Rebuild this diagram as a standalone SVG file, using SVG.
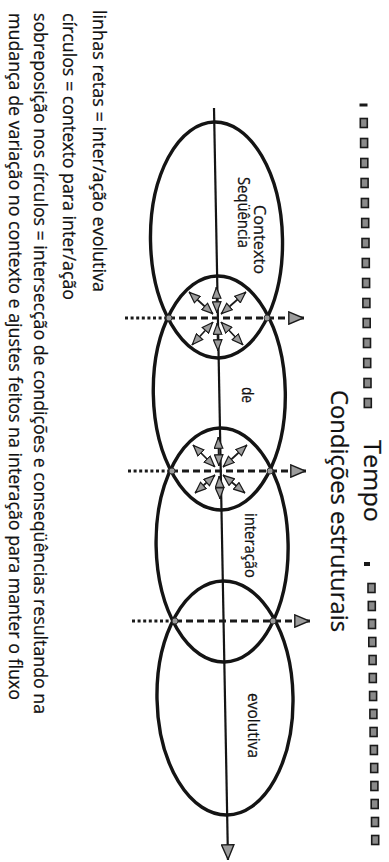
<svg xmlns="http://www.w3.org/2000/svg" width="389" height="862" viewBox="0 0 389 862">
  <style>
    .txt { font-family: "Open Sans", "Liberation Sans", sans-serif; fill: #111; stroke: #111; stroke-width: 0.25; }
    .legend { font-size: 19px; }
    .label { font-size: 16px; }
    .ctx { fill: none; stroke: #141414; stroke-width: 3.4; }
    .axis { fill: none; stroke: #141414; stroke-width: 2.2; }
    .dots { fill: none; stroke: #1a1a1a; stroke-width: 3.2; stroke-dasharray: 3 2.6; }
    .dash { fill: none; stroke: #1a1a1a; stroke-width: 3.2; stroke-dasharray: 7 4; }
    .burst { fill: none; stroke: #1a1a1a; stroke-width: 1.7; }
    .node-dot { fill: #9a9a9a; stroke: #333; stroke-width: 1; }
    .tick { fill: #8a8a8a; stroke: #1a1a1a; stroke-width: 1.6; }
  </style>
  <defs>
    <marker id="headBig" viewBox="0 0 16 14" refX="16" refY="7" markerWidth="16" markerHeight="14" markerUnits="userSpaceOnUse" orient="auto">
      <path d="M0.8,0.8 L15.4,7 L0.8,13.2 z" fill="#9c9c9c" stroke="#1a1a1a" stroke-width="1.4"/>
    </marker>
    <marker id="headSmall" viewBox="0 0 12 10" refX="12" refY="5" markerWidth="12" markerHeight="10" markerUnits="userSpaceOnUse" orient="auto-start-reverse">
      <path d="M0.7,0.7 L11.5,5 L0.7,9.3 z" fill="#9c9c9c" stroke="#1a1a1a" stroke-width="1.2"/>
    </marker>
  </defs>

  <!-- Legend -->
  <g id="legend" class="txt legend">
    <text transform="translate(93,10) rotate(90)" textLength="282" lengthAdjust="spacingAndGlyphs">linhas retas = inter/ação evolutiva</text>
    <text transform="translate(63,13) rotate(90)" textLength="287" lengthAdjust="spacingAndGlyphs">círculos = contexto para inter/ação</text>
    <text transform="translate(34,13) rotate(90)" textLength="701" lengthAdjust="spacingAndGlyphs">sobreposição nos círculos = intersecção de condições e conseqüências resultando na</text>
    <text transform="translate(9,13) rotate(90)" textLength="687" lengthAdjust="spacingAndGlyphs">mudança de variação no contexto e ajustes feitos na interação para manter o fluxo</text>
  </g>

  <!-- Time scale header -->
  <g id="time-scale">
    <rect x="359.5" y="103.5" width="8" height="3" fill="#1a1a1a"/>
    <rect class="tick" x="360.3" y="118.5" width="7" height="9"/>
    <rect class="tick" x="360.6" y="138.5" width="7" height="9"/>
    <rect class="tick" x="360.8" y="158.5" width="7" height="9"/>
    <rect class="tick" x="361.1" y="178.5" width="7" height="9"/>
    <rect class="tick" x="361.4" y="198.5" width="7" height="9"/>
    <rect class="tick" x="361.7" y="218.5" width="7" height="9"/>
    <rect class="tick" x="362.0" y="238.5" width="7" height="9"/>
    <rect class="tick" x="362.3" y="258.5" width="7" height="9"/>
    <rect class="tick" x="362.6" y="278.5" width="7" height="9"/>
    <rect class="tick" x="362.9" y="298.5" width="7" height="9"/>
    <rect class="tick" x="363.2" y="318.5" width="7" height="9"/>
    <rect class="tick" x="363.5" y="338.5" width="7" height="9"/>
    <rect class="tick" x="363.7" y="358.5" width="7" height="9"/>
    <rect class="tick" x="364.0" y="378.5" width="7" height="9"/>
    <rect class="tick" x="364.3" y="398.5" width="7" height="9"/>
    <text class="txt" font-size="23" transform="translate(364,440) rotate(90)" textLength="82" lengthAdjust="spacingAndGlyphs">Tempo</text>
    <rect x="364" y="562" width="6" height="4" fill="#1a1a1a"/>
    <rect class="tick" x="368.0" y="583.5" width="7" height="9"/>
    <rect class="tick" x="368.3" y="601.5" width="7" height="9"/>
    <rect class="tick" x="368.5" y="619.5" width="7" height="9"/>
    <rect class="tick" x="368.8" y="637.5" width="7" height="9"/>
    <rect class="tick" x="369.1" y="655.5" width="7" height="9"/>
    <rect class="tick" x="369.3" y="673.5" width="7" height="9"/>
    <rect class="tick" x="369.6" y="691.5" width="7" height="9"/>
    <rect class="tick" x="369.9" y="709.5" width="7" height="9"/>
    <rect class="tick" x="370.1" y="727.5" width="7" height="9"/>
    <rect class="tick" x="370.4" y="745.5" width="7" height="9"/>
    <rect class="tick" x="370.7" y="763.5" width="7" height="9"/>
    <rect class="tick" x="370.9" y="781.5" width="7" height="9"/>
    <rect class="tick" x="371.2" y="799.5" width="7" height="9"/>
    <rect class="tick" x="371.5" y="817.5" width="7" height="9"/>
    <rect class="tick" x="371.7" y="835.5" width="7" height="9"/>
    <text class="txt" font-size="23" transform="translate(331,390) rotate(90)" textLength="242" lengthAdjust="spacingAndGlyphs">Condições estruturais</text>
  </g>

  <!-- Context ellipses -->
  <g id="context-1">
    <ellipse class="ctx" cx="216.5" cy="240" rx="66" ry="118" transform="rotate(-1.07 216.5 240)"/>
    <text class="txt label" transform="translate(254,205) rotate(90)" textLength="69" lengthAdjust="spacingAndGlyphs">Contexto</text>
    <text class="txt label" transform="translate(238,177) rotate(90)" textLength="71" lengthAdjust="spacingAndGlyphs">Seqüência</text>
  </g>
  <g id="context-2">
    <ellipse class="ctx" cx="219.3" cy="393" rx="66" ry="117" transform="rotate(-1.07 219.3 393)"/>
    <text class="txt label" transform="translate(242,387) rotate(90)" textLength="16" lengthAdjust="spacingAndGlyphs">de</text>
  </g>
  <g id="context-3">
    <ellipse class="ctx" cx="222.1" cy="545" rx="66" ry="117" transform="rotate(-1.07 222.1 545)"/>
    <text class="txt label" transform="translate(245,513) rotate(90)" textLength="65" lengthAdjust="spacingAndGlyphs">interação</text>
  </g>
  <g id="context-4">
    <ellipse class="ctx" cx="225" cy="698" rx="68" ry="117" transform="rotate(-1.07 225 698)"/>
    <text class="txt label" transform="translate(248,693) rotate(90)" textLength="65" lengthAdjust="spacingAndGlyphs">evolutiva</text>
  </g>

  <!-- Connectors -->
  <g id="connectors">
    <!-- evolving inter/action axis -->
    <line class="axis" x1="214" y1="108" x2="228" y2="860" marker-end="url(#headBig)"/>

    <!-- overlap 1 -->
    <line class="dots" x1="125" y1="318" x2="168" y2="318"/>
    <line class="dash" x1="168" y1="318" x2="304" y2="318" marker-end="url(#headBig)"/>
    <!-- overlap 2 -->
    <line class="dots" x1="128" y1="471" x2="171" y2="471"/>
    <line class="dash" x1="171" y1="471" x2="306" y2="471" marker-end="url(#headBig)"/>
    <!-- overlap 3 -->
    <line class="dots" x1="132" y1="621" x2="175" y2="621"/>
    <line class="dash" x1="175" y1="621" x2="310" y2="621" marker-end="url(#headBig)"/>

    <!-- radiating adjustments, overlap 1 (centre 217,318) -->
    <line class="burst" x1="216.9" y1="313" x2="216.4" y2="287" marker-start="url(#headSmall)" marker-end="url(#headSmall)"/>
    <line class="burst" x1="217.2" y1="323" x2="218" y2="351" marker-start="url(#headSmall)" marker-end="url(#headSmall)"/>
    <line class="burst" x1="213" y1="314" x2="189" y2="292" marker-start="url(#headSmall)" marker-end="url(#headSmall)"/>
    <line class="burst" x1="221" y1="314" x2="246" y2="292" marker-start="url(#headSmall)" marker-end="url(#headSmall)"/>
    <line class="burst" x1="213" y1="322" x2="192" y2="345" marker-start="url(#headSmall)" marker-end="url(#headSmall)"/>
    <line class="burst" x1="221" y1="322" x2="243" y2="345" marker-start="url(#headSmall)" marker-end="url(#headSmall)"/>

    <!-- radiating adjustments, overlap 2 (centre 219,471) -->
    <line class="burst" x1="218.9" y1="466" x2="218.3" y2="437" marker-start="url(#headSmall)" marker-end="url(#headSmall)"/>
    <line class="burst" x1="219.2" y1="476" x2="220" y2="499" marker-start="url(#headSmall)" marker-end="url(#headSmall)"/>
    <line class="burst" x1="215" y1="467" x2="193" y2="445" marker-start="url(#headSmall)" marker-end="url(#headSmall)"/>
    <line class="burst" x1="223" y1="467" x2="247" y2="445" marker-start="url(#headSmall)" marker-end="url(#headSmall)"/>
    <line class="burst" x1="215" y1="475" x2="195" y2="493" marker-start="url(#headSmall)" marker-end="url(#headSmall)"/>
    <line class="burst" x1="223" y1="475" x2="245" y2="493" marker-start="url(#headSmall)" marker-end="url(#headSmall)"/>

    <!-- crossing points -->
    <circle class="node-dot" cx="169" cy="318" r="3"/>
    <circle class="node-dot" cx="267" cy="318" r="3"/>
    <circle class="node-dot" cx="172" cy="471" r="3"/>
    <circle class="node-dot" cx="270" cy="471" r="3"/>
    <circle class="node-dot" cx="175" cy="621" r="3"/>
    <circle class="node-dot" cx="273" cy="621" r="3"/>
  </g>
</svg>
